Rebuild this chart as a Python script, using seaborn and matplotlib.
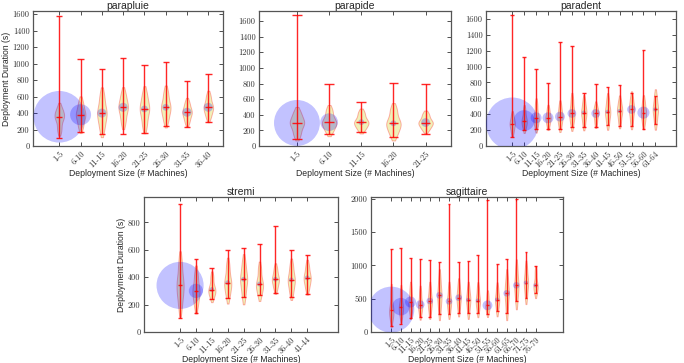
import numpy as np
import pandas as pd
import matplotlib
matplotlib.use("Agg")
import matplotlib.pyplot as plt
import seaborn as sns

# ---- data (seconds) ----
parapluie_sizes = ["1-5", "6-10", "11-15", "16-20", "21-25", "26-30", "31-35", "36-40"]
parapluie_min = [100, 170, 140, 140, 160, 245, 230, 290]
parapluie_med = [355, 380, 400, 470, 450, 470, 410, 470]
parapluie_max = [1580, 1060, 940, 1070, 990, 1025, 785, 875]
parapluie_lo = [200, 240, 220, 300, 260, 320, 300, 360]
parapluie_hi = [450, 520, 600, 620, 620, 640, 520, 600]
parapluie_n = [1150, 190, 35, 35, 20, 20, 35, 35]

parapide_sizes = ["1-5", "6-10", "11-15", "16-20", "21-25"]
parapide_min = [85, 160, 175, 120, 160]
parapide_med = [295, 305, 305, 290, 300]
parapide_max = [1680, 790, 560, 805, 795]
parapide_lo = [150, 200, 220, 160, 220]
parapide_hi = [420, 450, 420, 460, 400]
parapide_n = [910, 135, 15, 15, 33]

paradent_sizes = ["1-5", "6-10", "11-15", "16-20", "21-25", "26-30", "31-35",
                  "36-40", "41-45", "46-50", "51-55", "56-60", "61-64"]
paradent_min = [110, 200, 210, 220, 220, 240, 240, 235, 260, 250, 255, 210, 280]
paradent_med = [280, 320, 355, 355, 370, 410, 420, 410, 430, 440, 460, 420, 460]
paradent_max = [1650, 1115, 970, 790, 1310, 1260, 670, 780, 745, 765, 665, 1215, 630]
paradent_lo = [180, 230, 250, 260, 250, 280, 280, 290, 290, 300, 300, 290, 300]
paradent_hi = [380, 450, 520, 460, 500, 580, 560, 500, 580, 560, 600, 560, 620]
paradent_n = [1190, 187, 52, 52, 42, 33, 8, 33, 8, 8, 33, 63, 8]

stremi_sizes = ["1-5", "6-10", "11-15", "16-20", "21-25", "26-30", "31-35", "36-40", "41-44"]
stremi_min = [100, 140, 240, 250, 255, 270, 285, 255, 275]
stremi_med = [340, 300, 310, 360, 385, 350, 385, 380, 395]
stremi_max = [935, 530, 465, 600, 615, 640, 770, 595, 560]
stremi_lo = [200, 200, 260, 270, 270, 280, 320, 290, 320]
stremi_hi = [500, 420, 400, 480, 500, 460, 460, 480, 480]
stremi_n = [958, 88, 10, 10, 10, 10, 10, 10, 10]

sagittaire_sizes = ["1-5", "6-10", "11-15", "16-20", "21-25", "26-30", "31-35", "36-40",
                    "41-45", "46-50", "51-55", "56-60", "61-65", "66-70", "71-75", "76-79"]
sagittaire_min = [90, 120, 210, 220, 230, 265, 265, 290, 280, 280, 275, 310, 290, 460, 515, 580]
sagittaire_med = [335, 380, 450, 410, 465, 550, 460, 515, 480, 470, 400, 485, 580, 700, 740, 700]
sagittaire_max = [1250, 1260, 1110, 1090, 1075, 1045, 1915, 1045, 1060, 1160, 1985, 1015,
                  1095, 2000, 1195, 985]
sagittaire_lo = [200, 250, 300, 280, 300, 320, 300, 340, 300, 320, 300, 330, 320, 480, 540, 600]
sagittaire_hi = [600, 600, 650, 600, 650, 800, 650, 700, 650, 650, 550, 650, 800, 950, 950, 900]
sagittaire_n = [914, 133, 52, 33, 19, 19, 19, 19, 8, 8, 42, 8, 19, 19, 8, 8]

sns.set_style("white")
plt.rcParams["font.family"] = ["Liberation Sans", "DejaVu Sans"]

W, H = 684, 363
fig = plt.figure(figsize=(W / 100, H / 100), dpi=100)


def panel(box, title, sizes, mins, meds, maxs, lo, hi, n, xlim, ylim, yticks, ylabel=None):
    left, right, top, bottom = box
    ax = fig.add_axes([left / W, 1 - bottom / H, (right - left) / W, (bottom - top) / H])

    # violin bodies from a small sample per size bin (median counted twice)
    rows = []
    for s, a, m, b in zip(sizes, lo, meds, hi):
        for v in (a, m, m, b):
            rows.append((s, v))
    df = pd.DataFrame(rows, columns=["size", "duration"])
    sns.violinplot(data=df, x="size", y="duration", order=sizes, ax=ax, inner=None,
                   cut=1.2, width=0.45, density_norm="width", color="y", bw_adjust=0.8,
                   linewidth=0.7, saturation=1)
    for coll in ax.collections:
        coll.set_facecolor((0.8, 0.8, 0, 0.28))
        coll.set_edgecolor((1, 0, 0, 0.3))

    pos = np.arange(len(sizes))
    # circle area ~ number of deployments
    ax.scatter(pos, meds, s=np.array(n, dtype=float) * 1.2, color="blue", alpha=0.24,
               linewidths=0, zorder=3)
    ax.vlines(pos, mins, maxs, color="red", lw=1, alpha=0.85, zorder=4)
    for v in (mins, meds, maxs):
        ax.hlines(v, pos - 0.15, pos + 0.15, color="red", lw=1, alpha=0.85, zorder=4)

    ax.set_xlim(*xlim)
    ax.set_ylim(*ylim)
    ax.set_yticks(yticks)
    ax.set_yticklabels([str(t) for t in yticks], fontfamily="cmr10", fontsize=6)
    ax.set_xticks(pos)
    ax.set_xticklabels(sizes, fontfamily="cmr10", fontsize=6, rotation=45,
                       ha="right", rotation_mode="anchor")
    ax.tick_params(direction="in", length=3, width=0.6, top=True, right=True,
                   bottom=True, left=True, pad=2.5, colors="#333333")
    for sp in ax.spines.values():
        sp.set_color("#555555")
        sp.set_linewidth(0.9)
    ax.set_title(title, fontsize=7.5, pad=1.5)
    ax.set_xlabel("Deployment Size (# Machines)", fontsize=6.2, labelpad=0)
    if ylabel:
        ax.set_ylabel(ylabel, fontsize=6.2, labelpad=1)
    else:
        ax.set_ylabel("")
    return ax


panel((33, 223, 11, 146), "parapluie", parapluie_sizes, parapluie_min, parapluie_med,
      parapluie_max, parapluie_lo, parapluie_hi, parapluie_n, (-1.235, 7.69), (0, 1640),
      list(range(0, 1601, 200)), "Deployment Duration (s)")
panel((259, 451, 11, 146), "parapide", parapide_sizes, parapide_min, parapide_med,
      parapide_max, parapide_lo, parapide_hi, parapide_n, (-1.18, 4.79), (0, 1728),
      list(range(0, 1601, 200)))
panel((486, 676, 11, 146), "paradent", paradent_sizes, paradent_min, paradent_med,
      paradent_max, paradent_lo, paradent_hi, paradent_n, (-2.2, 13.73), (0, 1700),
      list(range(0, 1601, 200)))
panel((144, 338, 197, 332), "stremi", stremi_sizes, stremi_min, stremi_med,
      stremi_max, stremi_lo, stremi_hi, stremi_n, (-2.27, 9.94), (0, 985),
      list(range(0, 801, 200)), "Deployment Duration (s)")
panel((371, 563, 197, 332), "sagittaire", sagittaire_sizes, sagittaire_min, sagittaire_med,
      sagittaire_max, sagittaire_lo, sagittaire_hi, sagittaire_n, (-2.11, 17.85), (0, 2025),
      list(range(0, 2001, 500)))

fig.savefig("out.png", dpi=100)
